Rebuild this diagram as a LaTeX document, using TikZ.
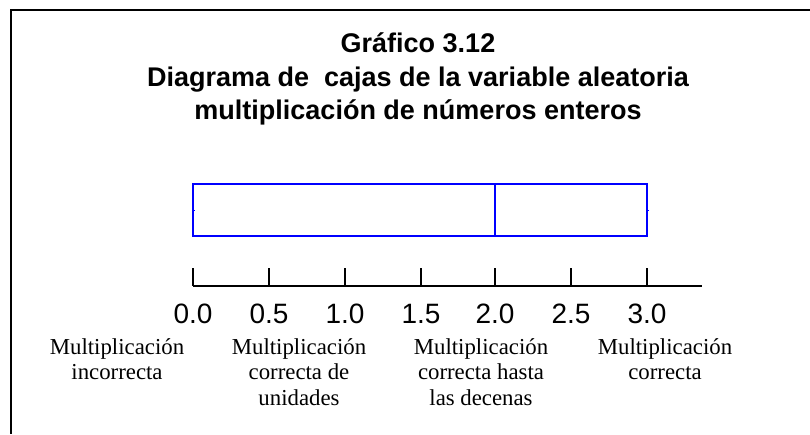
\documentclass[tikz,border=0pt]{standalone}
\usepackage{fontspec}
\setmainfont{Liberation Serif}
\newfontfamily\arialfont{Liberation Sans}
\begin{document}
\begin{tikzpicture}[x=1pt,y=-1pt,
  frameline/.style={line width=2pt,black},
  boxline/.style={line width=1.6pt,draw={rgb,255:red,0;green,0;blue,255}},
  axisline/.style={line width=2pt,black},
  tickline/.style={line width=1.5pt,black},
  ticklab/.style={font=\arialfont\fontsize{28}{28}\selectfont,inner sep=0pt,anchor=base},
  titlelab/.style={font=\arialfont\bfseries\fontsize{27}{34}\selectfont,inner sep=0pt,anchor=base},
  catlab/.style={font=\fontsize{22.8}{25.5}\selectfont,align=center,inner sep=0pt,anchor=north}]
\useasboundingbox (0,0) rectangle (810,434);
\fill[white] (0,0) rectangle (810,434);
% frame (top and left only)
\coordinate (ftr) at (810,10);
\coordinate (ftl) at (11,10);
\coordinate (fbl) at (11,434);
\draw[frameline] (ftr) -- (ftl) -- (fbl);
% title
\node[titlelab] (t1) at (418,52) {Gráfico 3.12};
\node[titlelab] (t2) at (418,86) {Diagrama de\ \ cajas de la variable aleatoria};
\node[titlelab] (t3) at (418,119) {multiplicación de números enteros};
% box
\coordinate (bl) at (193,184);
\coordinate (br) at (647,236);
\draw[boxline] (bl) rectangle (br);
\coordinate (mt) at (495,184);
\coordinate (mb) at (495,236);
\draw[boxline] (mt) -- (mb);
\coordinate (wl1) at (193,210);
\coordinate (wl2) at (195,210);
\coordinate (wr1) at (647,210);
\coordinate (wr2) at (649,210);
\draw[boxline,line width=1pt] (wl1) -- (wl2);
\draw[boxline,line width=1pt] (wr1) -- (wr2);
% axis
\coordinate (a0) at (193,286);
\coordinate (a1) at (702,286);
\draw[axisline] (a0) -- (a1);
\foreach \x/\lab [count=\i] in {193/0.0,269/0.5,345/1.0,421/1.5,495/2.0,571/2.5,647/3.0}{
  \coordinate (tk\i) at (\x,268);
  \coordinate (tb\i) at (\x,286);
  \draw[tickline] (tk\i) -- (tb\i);
  \node[ticklab] (tl\i) at (\x,323) {\lab};
}
% category labels
\node[catlab] (c1) at (117,338) {Multiplicación\\incorrecta};
\node[catlab] (c2) at (299,338) {Multiplicación\\correcta de\\unidades};
\node[catlab] (c3) at (481,338) {Multiplicación\\correcta hasta\\las decenas};
\node[catlab] (c4) at (665,338) {Multiplicación\\correcta};
\end{tikzpicture}
\end{document}
